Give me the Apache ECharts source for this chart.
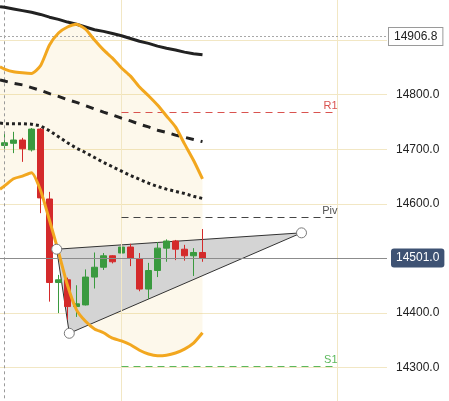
<!DOCTYPE html>
<html>
<head>
<meta charset="utf-8">
<style>
  html, body { margin: 0; padding: 0; background: #ffffff; }
  #chart { width: 449px; height: 401px; }
</style>
<script src="https://cdn.jsdelivr.net/npm/echarts@6/dist/echarts.min.js"></script>
</head>
<body>
<div id="chart"></div>
<script>
// ---- Candles (index 0..22) : open, close, low, high ----
const opens  = [14707,14711,14717,14699,14737,14609,14456,14461,14412,14415,14466,14484,14505,14510,14521,14500,14444,14478,14519,14532,14517,14505,14511];
const closes = [14712,14717,14701,14737,14611,14456,14461,14412,14417,14466,14484,14505,14494,14521,14500,14444,14478,14519,14532,14517,14505,14511,14501];
const lows   = [14701,14693,14677,14696,14583,14421,14400,14388,14393,14414,14445,14479,14491,14494,14486,14440,14426,14466,14494,14497,14496,14468,14494];
const highs  = [14732,14732,14721,14739,14739,14622,14470,14465,14451,14480,14511,14510,14506,14525,14527,14510,14492,14530,14535,14534,14525,14519,14554];

// ---- Indicator lines: x positions (bar index; -0.5 = left edge) ----
const lineX = [-0.5,0,1,2,3,4,5,6,7,8,9,10,11,12,13,14,15,16,17,18,19,20,21,22];
const bbUpper = [14851,14847,14842,14840,14839,14853,14891,14913,14924,14929,14920,14900,14882,14867,14849,14834,14814,14798,14781,14761,14741,14710,14680,14646];
const bbLower = [14627,14633,14646,14651,14657,14625,14570,14512,14451,14406,14385,14371,14364,14354,14349,14342,14332,14325,14322,14323,14327,14334,14345,14364];
const maSolid  = [14961,14960,14957,14954,14951,14947,14942,14938,14933,14929,14924,14919,14916,14912,14908,14903,14898,14894,14889,14885,14882,14878,14875,14873];
const maDashed = [14827,14825,14821,14818,14813,14808,14802,14797,14791,14786,14780,14774,14768,14763,14757,14752,14746,14741,14735,14731,14726,14722,14718,14714];
const maDotted = [14748,14747,14747,14747,14746,14743,14734,14723,14712,14702,14694,14685,14676,14668,14660,14652,14645,14638,14632,14627,14623,14619,14614,14610];

// ---- Pivot levels ----
const pivotNames  = ['R1', 'Piv', 'S1'];
const pivotValues = [14768, 14575, 14303];
const pivotColors = ['#d9534f', '#444444', '#5cb85c'];
const pivotLabelColors = ['#d9534f', '#555555', '#5cb85c'];
const pivotRange  = [13, 37];

// ---- Triangle drawing (bar index, price) ----
const triX = [5.8, 33.0, 7.2];
const triY = [14517, 14547, 14363];

// ---- Price markers ----
const lastPrice = 14501.0;
const highPrice = 14906.8;

// ---- Axis ----
const yTicks = { min: 14200, max: 15000, step: 100 };
const vGridBars = [13, 37];
const sessionBar = 0;
const barSlots = 43;

const categories = [];
for (let i = 0; i < barSlots; i++) categories.push(String(i));

const candleData = opens.map((o, i) => [o, closes[i], lows[i], highs[i]]);
const pairs = (ys) => lineX.map((x, i) => [x, ys[i]]);

const chart = echarts.init(document.getElementById('chart'), null, { renderer: 'canvas' });

const series = [];

// Bollinger fill
series.push({
  type: 'custom', xAxisIndex: 1, yAxisIndex: 0, z: 1, silent: true,
  data: [0],
  renderItem: function (params, api) {
    const top = lineX.map((x, i) => api.coord([x, bbUpper[i]]));
    const bot = lineX.map((x, i) => api.coord([x, bbLower[i]])).reverse();
    return { type: 'polygon', shape: { points: top.concat(bot) }, style: { fill: 'rgba(240,200,100,0.13)' } };
  }
});

// vertical grid lines + session separator
series.push({
  type: 'line', xAxisIndex: 1, yAxisIndex: 0, data: [], z: 1,
  markLine: {
    silent: true, symbol: 'none', animation: false,
    label: { show: false },
    data: vGridBars.map(v => ({ xAxis: v, lineStyle: { color: '#f2e7c4', width: 1, type: 'solid' } }))
      .concat([{ xAxis: sessionBar, lineStyle: { color: '#9a9a9a', width: 1, type: [3, 3] } }])
  }
});

// triangle
series.push({
  type: 'custom', xAxisIndex: 1, yAxisIndex: 0, z: 2, silent: true,
  data: [0],
  renderItem: function (params, api) {
    const pts = triX.map((x, i) => api.coord([x, triY[i]]));
    return { type: 'polygon', shape: { points: pts }, style: { fill: '#d4d4d4', stroke: '#333333', lineWidth: 1 } };
  }
});

// price line & high line
series.push({
  type: 'line', xAxisIndex: 1, yAxisIndex: 0, data: [], z: 3,
  markLine: {
    silent: true, symbol: 'none', animation: false,
    data: [
      { yAxis: lastPrice, lineStyle: { color: '#8c8c8c', width: 1, type: 'solid' },
        label: { show: true, position: 'end', distance: 4, formatter: lastPrice.toFixed(1),
          backgroundColor: '#3e5273', color: '#ffffff', padding: [4, 5, 3, 5], borderRadius: 3,
          fontSize: 12, fontFamily: 'Liberation Sans, Arial, sans-serif' } },
      { yAxis: highPrice, lineStyle: { color: '#a8a8a8', width: 1, type: [2, 2] },
        label: { show: true, position: 'end', distance: 2, formatter: highPrice.toFixed(1),
          backgroundColor: '#ffffff', borderColor: '#9a9a9a', borderWidth: 1, color: '#222222',
          padding: [3, 5, 2, 5], fontSize: 12, fontFamily: 'Liberation Sans, Arial, sans-serif' } }
    ]
  }
});

// pivots
pivotNames.forEach((name, k) => {
  series.push({
    type: 'line', xAxisIndex: 1, yAxisIndex: 0, data: [], z: 3,
    markLine: {
      silent: true, symbol: 'none', animation: false,
      lineStyle: { color: pivotColors[k], width: 1, type: [7, 5] },
      label: { show: true, position: 'insideEndTop', distance: [0, 1], formatter: name,
        color: pivotLabelColors[k], fontSize: 11, fontFamily: 'Liberation Sans, Arial, sans-serif' },
      data: [[{ coord: [pivotRange[0], pivotValues[k]] }, { coord: [pivotRange[1], pivotValues[k]] }]]
    }
  });
});

// candles
series.push({
  type: 'candlestick', xAxisIndex: 0, yAxisIndex: 0, z: 4,
  barWidth: 7,
  data: candleData,
  itemStyle: { color: '#3a9a3f', color0: '#d42a2b', borderColor: '#3a9a3f', borderColor0: '#d42a2b', borderWidth: 1 }
});

// MAs
series.push({ type: 'line', xAxisIndex: 1, yAxisIndex: 0, z: 5, data: pairs(maSolid), showSymbol: false, symbol: 'none',
  lineStyle: { color: '#222222', width: 3 } });
series.push({ type: 'line', xAxisIndex: 1, yAxisIndex: 0, z: 5, data: pairs(maDashed), showSymbol: false, symbol: 'none',
  lineStyle: { color: '#222222', width: 3, type: [8, 7] } });
series.push({ type: 'line', xAxisIndex: 1, yAxisIndex: 0, z: 5, data: pairs(maDotted), showSymbol: false, symbol: 'none',
  lineStyle: { color: '#222222', width: 3, type: [3, 3] } });

// Bollinger bands
series.push({ type: 'line', xAxisIndex: 1, yAxisIndex: 0, z: 6, data: pairs(bbUpper), showSymbol: false, symbol: 'none', smooth: 0.2,
  lineStyle: { color: '#f2a71f', width: 3 } });
series.push({ type: 'line', xAxisIndex: 1, yAxisIndex: 0, z: 6, data: pairs(bbLower), showSymbol: false, symbol: 'none', smooth: 0.2,
  lineStyle: { color: '#f2a71f', width: 3 } });

// triangle handles
series.push({
  type: 'scatter', xAxisIndex: 1, yAxisIndex: 0, z: 8, silent: true,
  data: triX.map((x, i) => [x, triY[i]]),
  symbol: 'circle', symbolSize: 10,
  itemStyle: { color: '#ffffff', borderColor: '#7a7a7a', borderWidth: 1, opacity: 1 }
});

chart.setOption({
  animation: false,
  backgroundColor: '#ffffff',
  grid: { left: 0, right: 62, top: -14.5, bottom: -21.3, containLabel: false, outerBoundsMode: 'none' },
  xAxis: [
    { type: 'category', data: categories, boundaryGap: true, show: false },
    { type: 'value', min: -0.5, max: barSlots - 0.5, show: false }
  ],
  yAxis: {
    type: 'value', position: 'right',
    min: yTicks.min, max: yTicks.max, interval: yTicks.step,
    axisLine: { show: false }, axisTick: { show: false },
    splitLine: { show: true, lineStyle: { color: '#f2e7c4', width: 1 } },
    axisLabel: {
      margin: 9, color: '#222222', fontSize: 12, fontFamily: 'Liberation Sans, Arial, sans-serif',
      formatter: function (v) {
        if (v === 14900 || v === 14500) return '';
        return v.toFixed(1);
      }
    }
  },
  series: series
});
</script>
</body>
</html>
